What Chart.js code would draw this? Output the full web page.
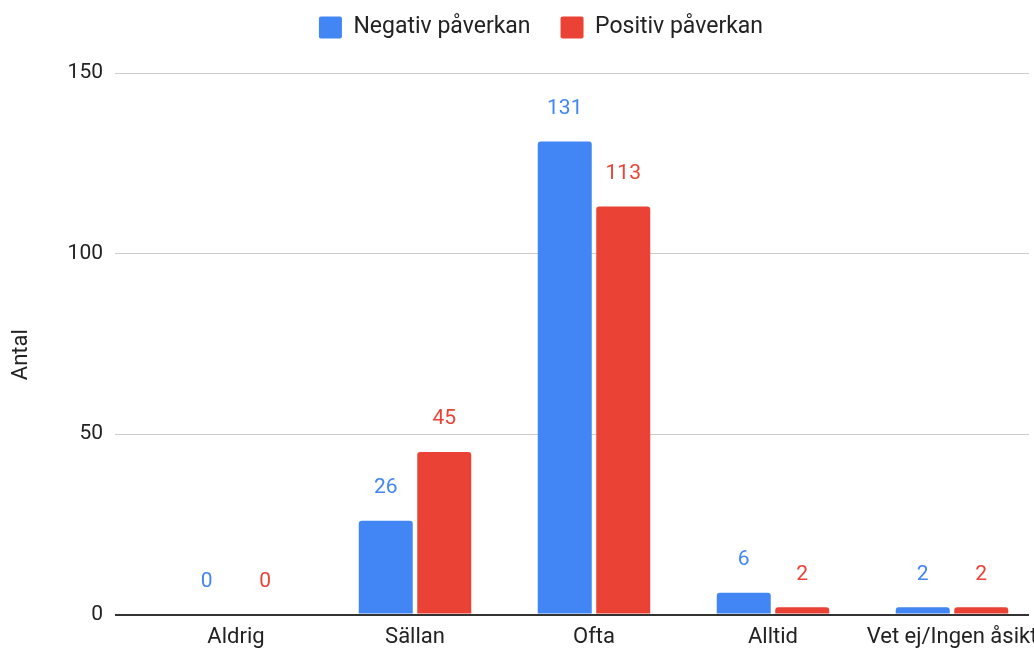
<!DOCTYPE html>
<html><head><meta charset="utf-8">
<script src="https://cdn.jsdelivr.net/npm/chart.js@4.4.1/dist/chart.umd.min.js"></script>
<style>
html,body{margin:0;padding:0;background:#fff;overflow:hidden;width:1034px;height:648px;}
#wrap{position:absolute;left:0;top:-14px;width:1082px;height:700px;}
</style></head><body>
<div id="wrap"><canvas id="c"></canvas></div>
<script>
const categories = ['Aldrig', 'Sällan', 'Ofta', 'Alltid', 'Vet ej/Ingen åsikt'];
const negativValues = [0, 26, 131, 6, 2];
const positivValues = [0, 45, 113, 2, 2];
const seriesNames = ['Negativ påverkan', 'Positiv påverkan'];
const yTickValues = [0, 50, 100, 150];
const yAxisTitle = 'Antal';

const BLUE = '#4285F4', RED = '#EA4335';
Chart.defaults.font.family = 'Roboto, "Liberation Sans", Arial, sans-serif';
Chart.defaults.color = '#222222';

const valueLabels = {
  id: 'valueLabels',
  afterDatasetsDraw(chart) {
    const ctx = chart.ctx;
    chart.data.datasets.forEach((ds, i) => {
      const meta = chart.getDatasetMeta(i);
      meta.data.forEach((bar, j) => {
        ctx.save();
        ctx.fillStyle = ds.backgroundColor;
        ctx.font = '21px Roboto, "Liberation Sans", Arial, sans-serif';
        ctx.textAlign = 'center';
        ctx.textBaseline = 'middle';
        ctx.fillText(String(ds.data[j]), bar.x, bar.y - 33);
        ctx.restore();
      });
    });
  }
};

new Chart(document.getElementById('c'), {
  type: 'bar',
  data: {
    labels: categories,
    datasets: [
      { label: seriesNames[0], data: negativValues, backgroundColor: BLUE },
      { label: seriesNames[1], data: positivValues, backgroundColor: RED }
    ]
  },
  options: {
    responsive: true,
    maintainAspectRatio: false,
    animation: false,
    devicePixelRatio: 1,
    layout: { padding: { left: 0, right: 0, top: 0, bottom: 0 } },
    datasets: {
      bar: {
        categoryPercentage: 0.6536,
        barPercentage: 0.923,
        borderRadius: { topLeft: 3, topRight: 3, bottomLeft: 0, bottomRight: 0 },
        borderSkipped: 'start'
      }
    },
    plugins: {
      legend: {
        position: 'top',
        align: 'center',
        labels: {
          boxWidth: 23, boxHeight: 22, padding: 30,
          font: { size: 23 }, color: '#222222',
          useBorderRadius: true, borderRadius: 2
        }
      },
      title: {
        display: true, text: '', weight: 500,
        font: { size: 1, lineHeight: 1 },
        padding: { top: 0, bottom: 23 }
      },
      tooltip: { enabled: false }
    },
    scales: {
      x: {
        type: 'category',
        offset: true,
        grid: { display: false, drawTicks: false },
        border: { display: false },
        ticks: { font: { size: 22 }, color: '#222222', padding: 10, maxRotation: 0, autoSkip: false },
        afterBuildTicks: (s) => { s._startValue = -0.676; s._valueRange = s.width / 179; },
        afterFit: (s) => { s.height = 71.5; s.paddingLeft = 0; s.paddingRight = 0; }
      },
      y: {
        min: 0, max: 150,
        grid: {
          drawTicks: false,
          color: (c) => (c.tick && c.tick.value === 0) ? '#333333' : '#cccccc',
          lineWidth: (c) => (c.tick && c.tick.value === 0) ? 2 : 1
        },
        border: { display: false },
        ticks: { font: { size: 21 }, color: '#222222', padding: 12 },
        afterBuildTicks: (s) => { s.ticks = yTickValues.map(v => ({ value: v })); },
        title: { display: true, text: yAxisTitle + '    ', font: { size: 22 }, color: '#222222', padding: { top: 8, bottom: 0 } },
        afterFit: (s) => { s.width = 115; }
      },
      yRight: {
        type: 'linear',
        position: 'right',
        display: true,
        grid: { display: false, drawOnChartArea: false, drawTicks: false },
        border: { display: false },
        ticks: { display: false },
        afterFit: (s) => { s.width = 53; }
      }
    }
  },
  plugins: [valueLabels]
});
</script>
</body></html>
